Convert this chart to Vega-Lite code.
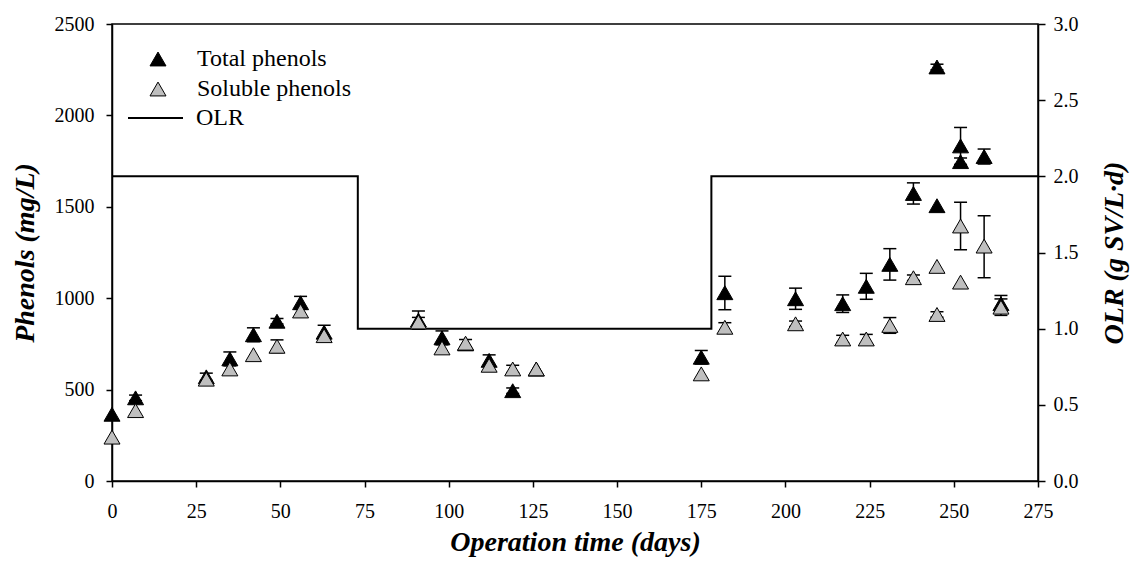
{
  "$schema": "https://vega.github.io/schema/vega-lite/v6.json",
  "width": 926,
  "height": 457,
  "autosize": "none",
  "padding": {"left": 112, "top": 24, "right": 94, "bottom": 87},
  "background": "white",
  "config": {
    "view": {"stroke": "black", "strokeWidth": 1.5},
    "axis": {
      "grid": false,
      "domainColor": "black",
      "domainWidth": 1.5,
      "tickColor": "black",
      "tickWidth": 1.5,
      "tickSize": 6,
      "labelFont": "Liberation Serif",
      "labelFontSize": 20,
      "labelColor": "black",
      "titleFont": "Liberation Serif",
      "titleFontSize": 28,
      "titleFontWeight": "bold",
      "titleFontStyle": "italic",
      "titleColor": "black"
    },
    "legend": {
      "orient": "none",
      "padding": 0,
      "labelFont": "Liberation Serif",
      "labelFontSize": 24,
      "labelColor": "black",
      "title": null
    }
  },
  "datasets": {
    "pts": [
      {"series": "Total phenols", "day": 0, "value": 365},
      {"series": "Total phenols", "day": 7, "value": 455},
      {"series": "Total phenols", "day": 28, "value": 570},
      {"series": "Total phenols", "day": 35, "value": 668},
      {"series": "Total phenols", "day": 42, "value": 800},
      {"series": "Total phenols", "day": 49, "value": 874},
      {"series": "Total phenols", "day": 56, "value": 975},
      {"series": "Total phenols", "day": 63, "value": 814},
      {"series": "Total phenols", "day": 91, "value": 880},
      {"series": "Total phenols", "day": 98, "value": 783},
      {"series": "Total phenols", "day": 105, "value": 750},
      {"series": "Total phenols", "day": 112, "value": 660},
      {"series": "Total phenols", "day": 119, "value": 494},
      {"series": "Total phenols", "day": 126, "value": 612},
      {"series": "Total phenols", "day": 175, "value": 677},
      {"series": "Total phenols", "day": 182, "value": 1030},
      {"series": "Total phenols", "day": 203, "value": 997},
      {"series": "Total phenols", "day": 217, "value": 970},
      {"series": "Total phenols", "day": 224, "value": 1065},
      {"series": "Total phenols", "day": 231, "value": 1185},
      {"series": "Total phenols", "day": 238, "value": 1573},
      {"series": "Total phenols", "day": 245, "value": 2265},
      {"series": "Total phenols", "day": 245, "value": 1506},
      {"series": "Total phenols", "day": 252, "value": 1833},
      {"series": "Total phenols", "day": 252, "value": 1747},
      {"series": "Total phenols", "day": 259, "value": 1775},
      {"series": "Total phenols", "day": 264, "value": 970},
      {"series": "Soluble phenols", "day": 0, "value": 240},
      {"series": "Soluble phenols", "day": 7, "value": 385},
      {"series": "Soluble phenols", "day": 28, "value": 557},
      {"series": "Soluble phenols", "day": 35, "value": 613},
      {"series": "Soluble phenols", "day": 42, "value": 691},
      {"series": "Soluble phenols", "day": 49, "value": 737},
      {"series": "Soluble phenols", "day": 56, "value": 930},
      {"series": "Soluble phenols", "day": 63, "value": 795},
      {"series": "Soluble phenols", "day": 91, "value": 870},
      {"series": "Soluble phenols", "day": 98, "value": 728},
      {"series": "Soluble phenols", "day": 105, "value": 754},
      {"series": "Soluble phenols", "day": 112, "value": 633},
      {"series": "Soluble phenols", "day": 119, "value": 613},
      {"series": "Soluble phenols", "day": 126, "value": 613},
      {"series": "Soluble phenols", "day": 175, "value": 586},
      {"series": "Soluble phenols", "day": 182, "value": 841},
      {"series": "Soluble phenols", "day": 203, "value": 860},
      {"series": "Soluble phenols", "day": 217, "value": 777},
      {"series": "Soluble phenols", "day": 224, "value": 777},
      {"series": "Soluble phenols", "day": 231, "value": 851},
      {"series": "Soluble phenols", "day": 238, "value": 1112},
      {"series": "Soluble phenols", "day": 245, "value": 1174},
      {"series": "Soluble phenols", "day": 245, "value": 911},
      {"series": "Soluble phenols", "day": 252, "value": 1395},
      {"series": "Soluble phenols", "day": 252, "value": 1088},
      {"series": "Soluble phenols", "day": 259, "value": 1285},
      {"series": "Soluble phenols", "day": 264, "value": 951}
    ],
    "err": [
      {"day": 7, "lo": 440, "hi": 470},
      {"day": 28, "lo": 550, "hi": 590},
      {"day": 35, "lo": 630, "hi": 706},
      {"day": 42, "lo": 762, "hi": 838},
      {"day": 49, "lo": 859, "hi": 889},
      {"day": 56, "lo": 940, "hi": 1010},
      {"day": 63, "lo": 776, "hi": 852},
      {"day": 91, "lo": 830, "hi": 930},
      {"day": 98, "lo": 745, "hi": 821},
      {"day": 112, "lo": 630, "hi": 690},
      {"day": 119, "lo": 479, "hi": 509},
      {"day": 175, "lo": 640, "hi": 714},
      {"day": 182, "lo": 937, "hi": 1120},
      {"day": 203, "lo": 939, "hi": 1055},
      {"day": 217, "lo": 922, "hi": 1018},
      {"day": 224, "lo": 994, "hi": 1136},
      {"day": 231, "lo": 1099, "hi": 1271},
      {"day": 238, "lo": 1515, "hi": 1631},
      {"day": 245, "lo": 2250, "hi": 2280},
      {"day": 252, "lo": 1732, "hi": 1934},
      {"day": 252, "lo": 1727, "hi": 1767},
      {"day": 259, "lo": 1734, "hi": 1816},
      {"day": 264, "lo": 925, "hi": 1015},
      {"day": 49, "lo": 702, "hi": 772},
      {"day": 91, "lo": 845, "hi": 895},
      {"day": 105, "lo": 734, "hi": 774},
      {"day": 119, "lo": 593, "hi": 633},
      {"day": 182, "lo": 816, "hi": 866},
      {"day": 203, "lo": 845, "hi": 875},
      {"day": 217, "lo": 757, "hi": 797},
      {"day": 224, "lo": 752, "hi": 802},
      {"day": 231, "lo": 808, "hi": 894},
      {"day": 238, "lo": 1097, "hi": 1127},
      {"day": 245, "lo": 896, "hi": 926},
      {"day": 252, "lo": 1265, "hi": 1525},
      {"day": 259, "lo": 1112, "hi": 1451},
      {"day": 264, "lo": 906, "hi": 996}
    ],
    "olr": [
      {"i": 0, "day": 0, "olr": 2, "series": "OLR"},
      {"i": 1, "day": 73, "olr": 2, "series": "OLR"},
      {"i": 2, "day": 73, "olr": 1, "series": "OLR"},
      {"i": 3, "day": 178, "olr": 1, "series": "OLR"},
      {"i": 4, "day": 178, "olr": 2, "series": "OLR"},
      {"i": 5, "day": 275, "olr": 2, "series": "OLR"}
    ]
  },
  "layer": [
    {
      "data": {"name": "olr"},
      "mark": {"type": "line", "strokeWidth": 2},
      "encoding": {
        "x": {"field": "day", "type": "quantitative", "title": "Operation time (days)",
              "scale": {"domain": [0, 275], "nice": false},
              "axis": {"orient": "bottom", "values": [0, 25, 50, 75, 100, 125, 150, 175, 200, 225, 250, 275], "labelFont": "Liberation Serif", "labelPadding": 14, "titlePadding": 7, "labelFlush": false}},
        "y": {"field": "olr", "type": "quantitative", "title": "OLR (g SV/L·d)",
              "scale": {"domain": [0, 3], "nice": false, "zero": true},
              "axis": {"orient": "right", "values": [0, 0.5, 1, 1.5, 2, 2.5, 3], "format": ".1f", "labelFont": "Liberation Serif", "labelPadding": 8, "tickSize": 7, "titleAngle": 270, "titleBaseline": "top", "titlePadding": 22}},
        "order": {"field": "i", "type": "quantitative"},
        "stroke": {"field": "series", "type": "nominal",
                   "scale": {"domain": ["OLR"], "range": ["black"]},
                   "legend": {"symbolType": "stroke", "symbolSize": 3025, "symbolStrokeWidth": 2, "symbolStrokeColor": "black", "labelOffset": 12, "legendX": 15, "legendY": 65.5}}
      }
    },
    {
      "layer": [
        {
          "data": {"name": "err"},
          "mark": {"type": "rule", "color": "black", "strokeWidth": 1.5},
          "encoding": {
            "x": {"field": "day", "type": "quantitative", "title": "Operation time (days)"},
            "y": {"field": "lo", "type": "quantitative", "title": "Phenols (mg/L)",
                  "scale": {"domain": [0, 2500], "nice": false},
                  "axis": {"orient": "left", "values": [0, 500, 1000, 1500, 2000, 2500], "format": "d", "labelFont": "Liberation Serif", "labelPadding": 12, "titlePadding": 15}},
            "y2": {"field": "hi"}
          }
        },
        {
          "data": {"name": "err"},
          "mark": {"type": "tick", "orient": "horizontal", "color": "black", "size": 13, "thickness": 1.5, "opacity": 1},
          "encoding": {
            "x": {"field": "day", "type": "quantitative", "title": "Operation time (days)"},
            "y": {"field": "lo", "type": "quantitative", "title": "Phenols (mg/L)"}
          }
        },
        {
          "data": {"name": "err"},
          "mark": {"type": "tick", "orient": "horizontal", "color": "black", "size": 13, "thickness": 1.5, "opacity": 1},
          "encoding": {
            "x": {"field": "day", "type": "quantitative", "title": "Operation time (days)"},
            "y": {"field": "hi", "type": "quantitative", "title": "Phenols (mg/L)"}
          }
        },
        {
          "data": {"name": "pts"},
          "mark": {"type": "point", "shape": "triangle-up", "filled": true, "size": 256, "stroke": "black", "strokeWidth": 1, "opacity": 1},
          "encoding": {
            "x": {"field": "day", "type": "quantitative", "title": "Operation time (days)"},
            "y": {"field": "value", "type": "quantitative", "title": "Phenols (mg/L)"},
            "fill": {"field": "series", "type": "nominal",
                     "scale": {"domain": ["Total phenols", "Soluble phenols"], "range": ["black", "#bfbfbf"]},
                     "legend": {"symbolType": "triangle-up", "symbolSize": 256, "symbolStrokeColor": "black", "symbolStrokeWidth": 1, "labelOffset": 27, "legendX": 34, "legendY": 23, "rowPadding": 6}}
          }
        }
      ]
    }
  ],
  "resolve": {"scale": {"y": "independent"}}
}
